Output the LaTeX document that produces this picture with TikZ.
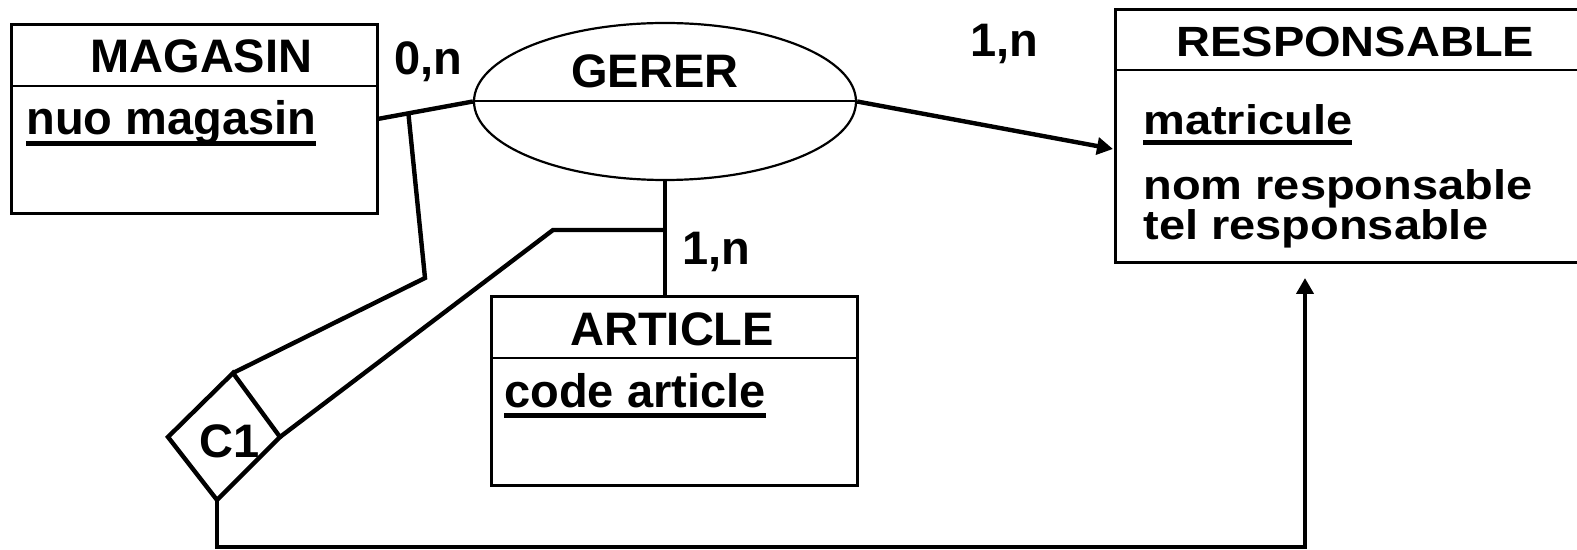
\documentclass[tikz,border=0pt]{standalone}
\usepackage{fontspec}
\usepackage{graphicx}
\setmainfont{Liberation Sans}
\usetikzlibrary{shapes.geometric,arrows.meta,calc}

% key attribute: thick underline below the name
\newcommand\keyattr[1]{\setbox0\hbox{#1}\rlap{\rule[-5.4pt]{\wd0}{2.3pt}}\box0}
% slightly flattened lettering used inside the RESPONSABLE entity
\newcommand\flattxt[1]{\scalebox{1}[0.88]{#1}}

\tikzset{
  entity/.style={draw, line width=1.3pt, minimum width=183pt, minimum height=94.5pt,
    inner sep=0pt, anchor=north west},
  assoc/.style={draw, ellipse, line width=1.1pt, minimum width=191pt, minimum height=78.5pt,
    inner sep=0pt},
  txt/.style={inner sep=0pt, anchor=base west, font=\fontsize{23.5}{28}\selectfont\bfseries},
  divider/.style={line width=1pt},
  link/.style={line width=2.2pt, line join=miter},
  arrowlink/.style={link, -{Triangle[length=8pt,width=8.5pt]}},
}

\begin{document}
\begin{tikzpicture}[x=0.5pt, y=-0.5pt]
\useasboundingbox (0,0) rectangle (1577,550);

% entities
\node[entity] (magasin) at (10,23) {};
\draw[divider] (10,86) coordinate (magdiv) -- (magdiv -| magasin.east);
\node[txt] (magtitle) at (90,73) {MAGASIN};
\node[txt] (magkey) at (26,135) {\keyattr{nuo magasin}};

\node[entity] (article) at (490,295) {};
\draw[divider] (490,358) coordinate (artdiv) -- (artdiv -| article.east);
\node[txt] (arttitle) at (570,345) {ARTICLE};
\node[txt] (artkey) at (504,407) {\keyattr{code article}};

\node[entity, minimum width=240pt, minimum height=126.5pt] (resp) at (1114,8) {};
\draw[divider] (1114,70) coordinate (respdiv) -- (respdiv -| resp.east);
\node[txt] (resptitle) at (1176,57) {\scalebox{1}[0.9]{RESPONSABLE}};
\node[txt] (respkey) at (1143,135) {\flattxt{\keyattr{matricule}}};
\node[txt] (respnom) at (1143,200) {\flattxt{nom responsable}};
\node[txt] (resptel) at (1143,240) {\flattxt{tel responsable}};

% association
\node[assoc] (gerer) at (665,101.5) {};
\draw[divider] (gerer.west) -- (gerer.east);
\node[txt] (gerertitle) at (571,88) {GERER};

% cardinalities
\node[txt] (card1) at (394,75) {0,n};
\node[txt] (card2) at (970,57) {1,n};
\node[txt] (card3) at (682,265) {1,n};

% constraint C1
\coordinate (c1top) at (233,373);
\coordinate (c1right) at (280,437);
\coordinate (c1bottom) at (217,500);
\coordinate (c1left) at (168,437);
\draw[link, line join=miter] (c1top) -- (c1right) -- (c1bottom) -- (c1left) -- cycle;
\node[txt] (c1) at (199,457) {C1};

% links
\draw[link] (magasin.east) -- (gerer.west);
\draw[arrowlink] (gerer.east) -- (1113,149);
\draw[link] (gerer.south) -- (gerer.south |- article.north);

\coordinate (magjoin) at ($(magasin.east)!0.316!(gerer.west)$);
\coordinate (magbend) at (425,278);
\draw[link] (magjoin) -- (magbend) -- (c1top);

\coordinate (artjoin) at (gerer.south |- 0,230);
\coordinate (artbend) at (553,230);
\draw[link] (artjoin) -- (artbend) -- (c1right);

\coordinate (c1low) at (217,547);
\coordinate (resplow) at (1305,547);
\coordinate (respin) at (1305,278);
\draw[arrowlink] (c1bottom) -- (c1low) -- (resplow) -- (respin);
\end{tikzpicture}
\end{document}
